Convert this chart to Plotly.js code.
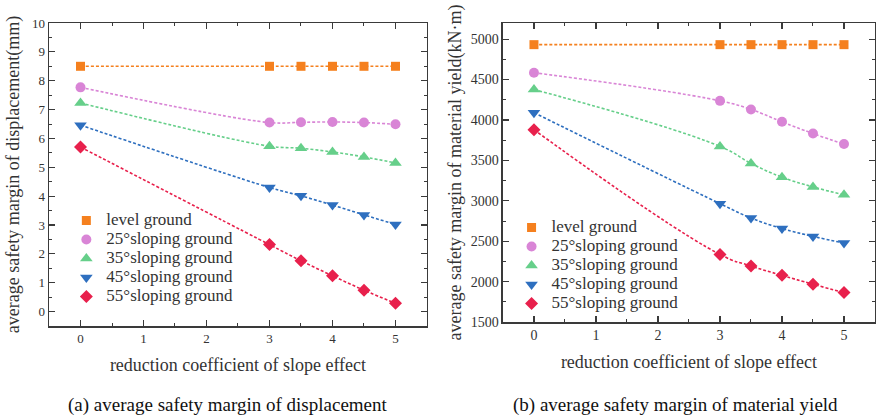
<!DOCTYPE html>
<html>
<head>
<meta charset="utf-8">
<script src="https://cdn.plot.ly/plotly-3.0.1.min.js"></script>
<style>html,body{margin:0;padding:0;background:#fff;}#chart{width:876px;height:419px;}</style>
</head>
<body>
<div id="chart"></div>
<script>
// x positions (reduction coefficient of slope effect)
const coef = [0, 3, 3.5, 4, 4.5, 5];
const seriesNames = ["level ground", "25°sloping ground", "35°sloping ground", "45°sloping ground", "55°sloping ground"];

// (a) average safety margin of displacement (mm)
const dispLevel = [8.5, 8.5, 8.5, 8.5, 8.5, 8.5];
const disp25 = [7.77, 6.55, 6.56, 6.57, 6.55, 6.49];
const disp35 = [7.23, 5.73, 5.66, 5.53, 5.36, 5.15];
const disp45 = [6.46, 4.30, 4.01, 3.69, 3.35, 3.02];
const disp55 = [5.70, 2.32, 1.76, 1.24, 0.74, 0.29];

// (b) average safety margin of material yield (kN·m)
const yieldLevel = [4932, 4932, 4932, 4932, 4932, 4932];
const yield25 = [4585, 4237, 4130, 3978, 3832, 3702];
const yield35 = [4377, 3673, 3463, 3293, 3172, 3075];
const yield45 = [4091, 2965, 2787, 2658, 2560, 2478];
const yield55 = [3880, 2337, 2194, 2078, 1968, 1865];

const colors = ["#f5801e", "#d985d6", "#66cf8a", "#2e6fbf", "#e8204c"];
const symbols = ["square", "circle", "triangle-up", "triangle-down", "diamond"];
const msize = [9, 10, 11, 11, 10];

const FONT = '"Liberation Serif", "Times New Roman", serif';
const dispSeries = [dispLevel, disp25, disp35, disp45, disp55];
const yieldSeries = [yieldLevel, yield25, yield35, yield45, yield55];

const traces = [];
function addSet(series, xa, ya, legendId, smooth) {
  series.forEach((ys, i) => {
    traces.push({
      x: coef, y: ys, xaxis: xa, yaxis: ya, mode: "lines",
      line: {color: colors[i], width: 1.6, dash: "3px,2px", shape: "spline", smoothing: smooth},
      showlegend: false, hoverinfo: "skip"
    });
  });
  series.forEach((ys, i) => {
    traces.push({
      x: coef, y: ys, xaxis: xa, yaxis: ya, mode: "markers",
      name: '<span style="font-size:17px">' + seriesNames[i] + '</span>',
      marker: {color: colors[i], symbol: symbols[i], size: msize[i]},
      legend: legendId, showlegend: true
    });
  });
}
addSet(dispSeries, "x", "y", "legend", 1);
addSet(yieldSeries, "x2", "y2", "legend2", 1.3);

const axisCommon = {
  showline: true, linecolor: "#3a3a3a", linewidth: 1.5, mirror: "ticks",
  ticks: "inside", ticklen: 6, tickwidth: 1.2, tickcolor: "#3a3a3a",
  showgrid: false, zeroline: false, color: "#333",
  minor: {ticks: "inside", ticklen: 3, tickwidth: 1, tickcolor: "#3a3a3a"}
};
const titleFont = {size: 18, family: FONT, color: "#333"};

const layout = {
  width: 876, height: 419,
  margin: {l: 49, r: 1, t: 23, b: 93},
  paper_bgcolor: "#fff", plot_bgcolor: "#fff",
  font: {family: FONT, color: "#333"},
  xaxis: Object.assign({}, axisCommon, {
    domain: [0, 0.4576], range: [-0.5, 5.5], dtick: 1, anchor: "y",
    minor: Object.assign({}, axisCommon.minor, {dtick: 0.5}),
    tickfont: {size: 13, family: FONT},
    title: {text: "reduction coefficient of slope effect", font: titleFont, standoff: 13}
  }),
  yaxis: Object.assign({}, axisCommon, {
    domain: [0, 1], range: [-0.5, 10], dtick: 1, anchor: "x",
    minor: Object.assign({}, axisCommon.minor, {dtick: 0.5}),
    tickfont: {size: 13, family: FONT},
    title: {text: "average safety margin of displacement(mm)", font: titleFont, standoff: 7}
  }),
  xaxis2: Object.assign({}, axisCommon, {
    domain: [0.5496, 1], range: [-0.5, 5.5], dtick: 1, anchor: "y2",
    minor: Object.assign({}, axisCommon.minor, {dtick: 0.5}),
    tickfont: {size: 14, family: FONT},
    title: {text: "reduction coefficient of slope effect", font: titleFont, standoff: 13}
  }),
  yaxis2: Object.assign({}, axisCommon, {
    domain: [0.013, 1], range: [1500, 5200], dtick: 500, anchor: "x2",
    minor: Object.assign({}, axisCommon.minor, {dtick: 250}),
    tickfont: {size: 14, family: FONT},
    title: {text: "average safety margin of material yield(kN·m)", font: titleFont, standoff: 4}
  }),
  legend: {
    x: 0.021, y: 0.396, xanchor: "left", yanchor: "top", bgcolor: "rgba(0,0,0,0)",
    font: {size: 12, family: FONT, color: "#333"}, itemwidth: 30, tracegroupgap: 0
  },
  legend2: {
    x: 0.560, y: 0.373, xanchor: "left", yanchor: "top", bgcolor: "rgba(0,0,0,0)",
    font: {size: 12, family: FONT, color: "#333"}, itemwidth: 30, tracegroupgap: 0
  },
  annotations: [
    {text: "(a) average safety margin of displacement", xref: "paper", yref: "paper", x: 0.217, y: -0.261,
     xanchor: "center", yanchor: "middle", showarrow: false, font: {size: 19, family: FONT, color: "#111"}},
    {text: "(b) average safety margin of material yield", xref: "paper", yref: "paper", x: 0.758, y: -0.261,
     xanchor: "center", yanchor: "middle", showarrow: false, font: {size: 19, family: FONT, color: "#111"}}
  ]
};

Plotly.newPlot("chart", traces, layout, {displayModeBar: false, staticPlot: true});
</script>
</body>
</html>
